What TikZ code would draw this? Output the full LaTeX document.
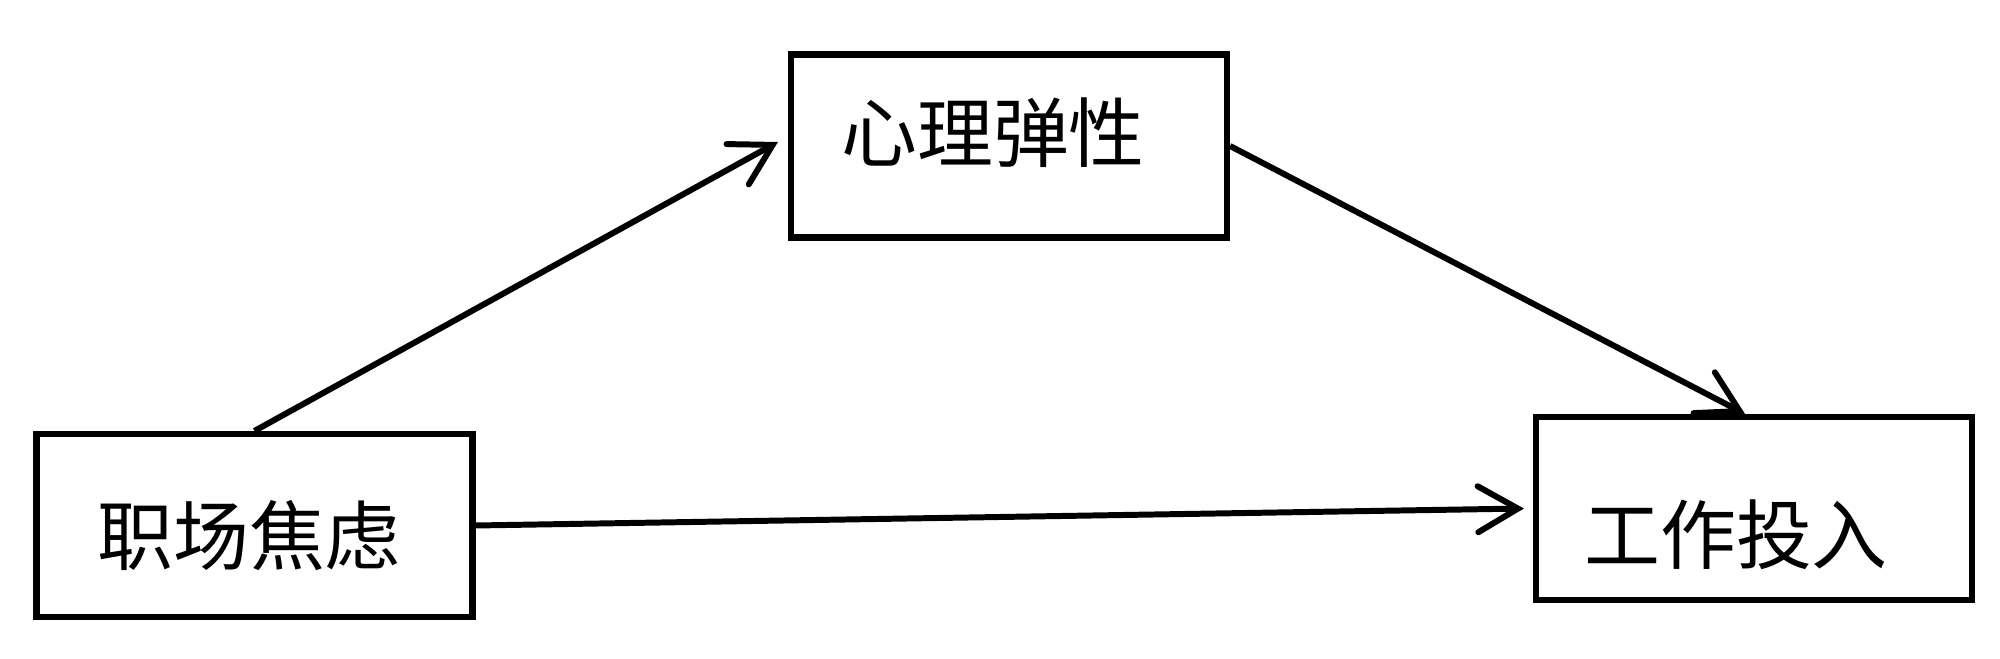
\documentclass[tikz,border=0pt]{standalone}
\usepackage{fontspec}
\newfontfamily\cjk{Noto Sans CJK SC}
\usetikzlibrary{arrows.meta}
\tikzset{
  boxnode/.style={draw=black, line width=1.75pt, minimum width=4.36cm, minimum height=1.83cm, inner sep=0pt, fill=white},
  txt/.style={font=\cjk\fontsize{21.6pt}{24pt}\selectfont, inner sep=0pt},
  conn/.style={line width=1.7pt, -{Straight Barb[length=0.4cm, width=0.46cm, line cap=round]}}
}
\begin{document}
\begin{tikzpicture}[x=1cm,y=1cm]
\useasboundingbox (0,0) rectangle (20,6.58);
\node[boxnode] (b1) at (2.545,1.325) {};
\node[boxnode] (b2) at (10.09,5.12) {};
\node[boxnode] (b3) at (17.54,1.495) {};
\node[txt] (t1) at (2.49,1.22) {职场焦虑};
\node[txt] (t2) at (9.93,5.25) {心理弹性};
\node[txt] (t3) at (17.36,1.23) {工作投入};
\draw[conn] (b1.north) -- ([xshift=-0.1cm,yshift=0.04cm]b2.west);
\draw[conn] (b2.east) -- ([xshift=-0.09cm]b3.north);
\draw[conn] (b1.east) -- ([xshift=-0.09cm]b3.west);
\end{tikzpicture}
\end{document}
